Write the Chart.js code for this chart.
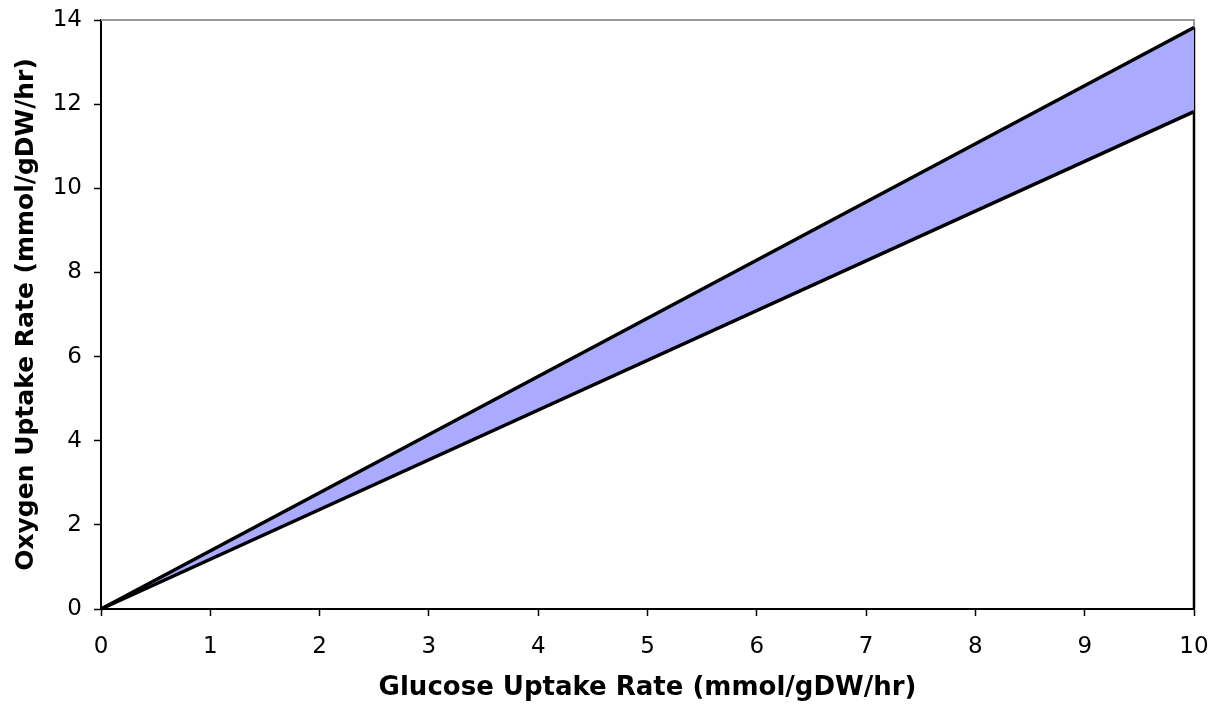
<!DOCTYPE html>
<html>
<head>
<meta charset="utf-8">
<script src="https://cdn.jsdelivr.net/npm/chart.js@4"></script>
<style>
  html, body { margin: 0; padding: 0; background: #fff; }
  #wrap { width: 1215px; height: 704px; }
</style>
</head>
<body>
<div id="wrap"><canvas id="chart" width="1215" height="704"></canvas></div>
<script>
// glucose uptake (x) and oxygen uptake bounds (y)
const glucose = [0, 10];
const oxygenLow = [0, 11.82];
const oxygenHigh = [0, 13.82];

const xTitle = 'Glucose Uptake Rate (mmol/gDW/hr)';
const yTitle = 'Oxygen Uptake Rate (mmol/gDW/hr)';

const toPoints = (xs, ys) => xs.map((x, i) => ({ x: x, y: ys[i] }));

// gray frame on top and right of the plot area
const frame = {
    id: 'frame',
    beforeDatasetsDraw(chart) {
        const a = chart.chartArea;
        const ctx = chart.ctx;
        ctx.save();
        ctx.strokeStyle = '#999999';
        ctx.lineWidth = 2;
        ctx.beginPath();
        ctx.moveTo(a.left, a.top);
        ctx.lineTo(a.right, a.top);
        ctx.lineTo(a.right, a.bottom);
        ctx.stroke();
        ctx.restore();
    }
};

const last = glucose.length - 1;

const ctx = document.getElementById('chart').getContext('2d');
new Chart(ctx, {
    type: 'line',
    data: {
        datasets: [{
            label: 'low',
            data: toPoints(glucose, oxygenLow),
            borderColor: '#000',
            borderWidth: 3.5,
            pointRadius: 0,
            fill: false,
            clip: 4
        }, {
            label: 'high',
            data: toPoints(glucose, oxygenHigh),
            borderColor: '#000',
            borderWidth: 3.5,
            pointRadius: 0,
            backgroundColor: '#aaaaff',
            fill: '-1',
            clip: 4
        }, {
            label: 'edge',
            data: [{ x: glucose[last], y: 0 }, { x: glucose[last], y: oxygenHigh[last] }],
            borderColor: '#000',
            borderWidth: 2.5,
            pointRadius: 0,
            fill: false,
            clip: 4
        }]
    },
    plugins: [frame],
    options: {
        responsive: false,
        animation: false,
        layout: { padding: { top: 20, right: 21, left: 0, bottom: 0 } },
        plugins: {
            legend: { display: false },
            tooltip: { enabled: false }
        },
        scales: {
            x: {
                type: 'linear',
                min: 0,
                max: 10,
                afterFit: s => {
                    s.height = 95;
                    s.paddingLeft = 0;
                    s.paddingRight = 0;
                },
                ticks: {
                    stepSize: 1,
                    color: '#000',
                    padding: 17,
                    font: { family: 'DejaVu Sans', size: 23 }
                },
                grid: {
                    drawOnChartArea: false,
                    color: '#000',
                    tickLength: 7,
                    tickWidth: 1.5
                },
                border: { color: '#000', width: 2 },
                title: {
                    display: true,
                    text: xTitle,
                    color: '#000',
                    padding: { top: 6, bottom: 0 },
                    font: { family: 'DejaVu Sans', size: 26, weight: 'bold' }
                }
            },
            y: {
                type: 'linear',
                min: 0,
                max: 14,
                afterFit: s => {
                    s.width = 101;
                    s.paddingTop = 0;
                    s.paddingBottom = 0;
                },
                ticks: {
                    stepSize: 2,
                    color: '#000',
                    padding: 12,
                    font: { family: 'DejaVu Sans', size: 23 }
                },
                grid: {
                    drawOnChartArea: false,
                    color: '#000',
                    tickLength: 7,
                    tickWidth: 1.5
                },
                border: { color: '#000', width: 2 },
                title: {
                    display: true,
                    text: yTitle,
                    color: '#000',
                    padding: { top: 11, bottom: 4 },
                    font: { family: 'DejaVu Sans', size: 25, weight: 'bold' }
                }
            }
        }
    }
});
</script>
</body>
</html>
